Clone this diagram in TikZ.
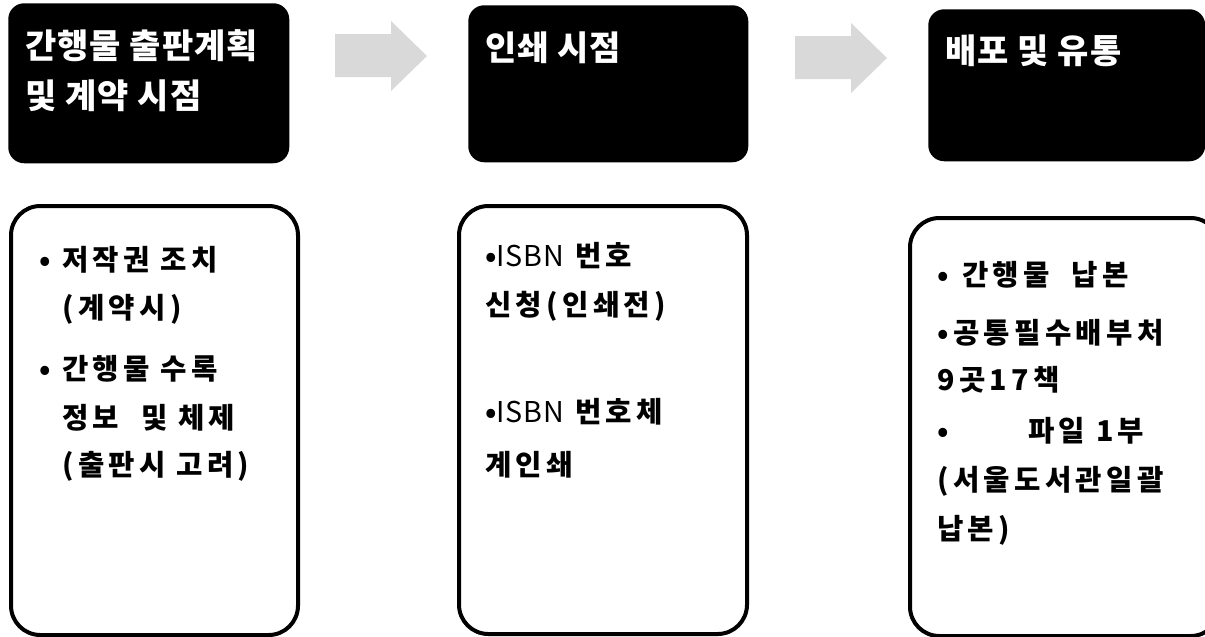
\documentclass[tikz,border=0pt]{standalone}
\usepackage{fontspec}
\setmainfont{Noto Sans CJK KR}
\newcommand{\plainlat}[1]{{\mdseries\addfontfeature{LetterSpace=3}#1}}
\tikzset{
  hdr/.style={fill=black,rounded corners=12pt,draw=none,inner sep=0pt},
  card/.style={draw=black,line width=3pt,fill=white,rounded corners=22pt,inner sep=0pt},
  barrow/.style={fill=black!15,draw=none},
  htxt/.style={anchor=base west,inner sep=0pt,text=white,font=\fontsize{25.5}{28}\selectfont\bfseries\addfontfeature{LetterSpace=3}},
  btxt/.style={anchor=base west,inner sep=0pt,text=black,font=\fontsize{21.5}{26}\selectfont\bfseries\addfontfeature{LetterSpace=15}},
}
\begin{document}
\begin{tikzpicture}[x=0.75pt,y=-0.75pt]
\useasboundingbox (0,0) rectangle (1205,636);
\clip (0,0) rectangle (1205,636);
% header boxes
\node[hdr,minimum width=281*0.75pt,minimum height=160*0.75pt,anchor=north west] (h1) at (8,3) {};
\node[hdr,minimum width=280*0.75pt,minimum height=157*0.75pt,anchor=north west] (h2) at (468,5) {};
\node[hdr,minimum width=277*0.75pt,minimum height=152*0.75pt,anchor=north west] (h3) at (928,9) {};
% block arrows
\draw[barrow] (335,34) -- (391,34) -- (391,21) -- (427,56) -- (391,91) -- (391,77) -- (335,77) -- cycle;
\draw[barrow] (795,36) -- (851,36) -- (851,23) -- (887,58) -- (851,93) -- (851,79) -- (795,79) -- cycle;
% header text
\node[htxt] (h1a) at (25,58) {간행물 출판계획};
\node[htxt] (h1b) at (25,108) {및 계약 시점};
\node[htxt] (h2a) at (485,60) {인쇄 시점};
\node[htxt] (h3a) at (945,63) {배포 및 유통};
% cards
\node[card,minimum width=287*0.75pt,minimum height=429*0.75pt,anchor=north west] (c1) at (9,204) {};
\node[card,minimum width=288*0.75pt,minimum height=428*0.75pt,anchor=north west] (c2) at (457,204) {};
\node[card,minimum width=310*0.75pt,minimum height=418*0.75pt,anchor=north west] (c3) at (908,216) {};
% card 1 text
\node[btxt] (b1) at (39,270) {•};
\node[btxt] (t1a) at (62,270) {저작권 조치};
\node[btxt] (t1b) at (62,318) {(계약시)};
\node[btxt] (b2) at (39,379) {•};
\node[btxt] (t1c) at (62,379) {간행물 수록};
\node[btxt] (t1d) at (62,428) {정보\ \ 및 체제};
\node[btxt] (t1e) at (62,475) {(출판시 고려)};
% card 2 text
\node[btxt] (t2a) at (485,266) {•\plainlat{ISBN} 번호};
\node[btxt] (t2b) at (485,315) {신청(인쇄전)};
\node[btxt] (t2c) at (485,422) {•\plainlat{ISBN} 번호체};
\node[btxt] (t2d) at (485,475) {계인쇄};
% card 3 text
\node[btxt] (b3) at (937,285) {•};
\node[btxt] (t3a) at (962,285) {간행물\ \ 납본};
\node[btxt] (t3b) at (937,343) {•공통필수배부처};
\node[btxt] (t3c) at (937,390) {9곳17책};
\node[btxt] (b4) at (937,441) {•};
\node[btxt] (t3d) at (1028,441) {파일 1부};
\node[btxt] (t3e) at (937,490) {(서울도서관일괄};
\node[btxt] (t3f) at (937,539) {납본)};
\end{tikzpicture}
\end{document}
